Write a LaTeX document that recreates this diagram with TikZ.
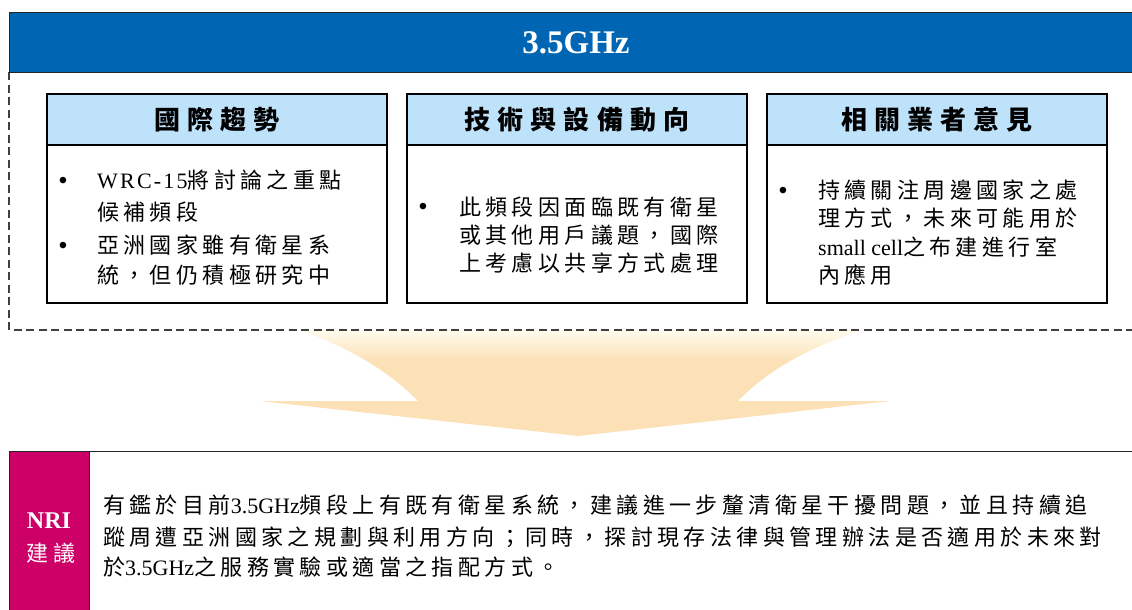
\documentclass[tikz,border=0pt]{standalone}
\usepackage{fontspec}
\setmainfont{Liberation Serif}
\newfontfamily\cjk[LetterSpace=20]{Noto Sans CJK TC}
\newfontfamily\cjkh[LetterSpace=27]{Noto Sans CJK TC}
\newfontfamily\bulfont{Liberation Sans}
\definecolor{barblue}{RGB}{0,102,179}
\definecolor{hdrblue}{RGB}{189,226,250}
\definecolor{nripink}{RGB}{204,0,102}
\definecolor{arrorange}{RGB}{252,224,182}
\definecolor{arrtop}{RGB}{255,252,238}
\pgfdeclareverticalshading{arrowshade}{100bp}{color(0bp)=(arrorange); color(60bp)=(arrorange); color(75bp)=(arrtop); color(100bp)=(arrtop)}
\begin{document}
\begin{tikzpicture}[x=1pt,y=-1pt,
  hdr/.style={draw=black, line width=1.2pt, fill=hdrblue, minimum width=340pt, minimum height=51pt, inner sep=0pt, font=\fontsize{26}{26}\selectfont\cjkh\bfseries},
  bodybox/.style={draw=black, line width=1.2pt, fill=white, minimum width=340pt, minimum height=158pt, inner sep=0pt},
  txt/.style={anchor=base west, inner sep=0pt, font=\fontsize{22}{22}\selectfont\cjk},
  bul/.style={anchor=base, inner sep=0pt, font=\fontsize{24}{24}\selectfont\bulfont},
  frame/.style={draw=black!75, line width=1.3pt, dash pattern=on 8pt off 4.5pt},
]
\useasboundingbox (0,0) rectangle (1132,610);
% arrow
\shade[shading=arrowshade] (300,330) .. controls (350,348) and (390,372) .. (418,401) -- (260,401) -- (578,436) -- (890,401) -- (738,401) .. controls (766,372) and (806,348) .. (863,330) -- cycle;
% dashed frame
\coordinate (fa) at (9,72);
\coordinate (fb) at (9,330);
\coordinate (fc) at (1140,330);
\draw[frame] (fa) -- (fb) -- (fc);
% top bar
\node[draw=black!85, line width=1.2pt, fill=barblue, minimum width=1140pt, minimum height=60pt, inner sep=0pt, anchor=north west] (bar) at (9,12) {};
\node[text=white, font=\fontsize{33}{33}\selectfont\bfseries] (title) at (576,43) {3.5GHz};
% columns
\node[bodybox] (b1) at (217,224) {};
\node[bodybox] (b2) at (577,224) {};
\node[bodybox] (b3) at (937,224) {};
\node[hdr] (h1) at (217,119.5) {國際趨勢};
\node[hdr] (h2) at (577,119.5) {技術與設備動向};
\node[hdr] (h3) at (937,119.5) {相關業者意見};
% column 1
\node[bul] (u1a) at (63,188) {•};
\node[txt] (t1a) at (97,188) {{\rmfamily\addfontfeature{LetterSpace=10}WRC-15}將討論之重點};
\node[txt] (t1b) at (97,220) {候補頻段};
\node[bul] (u1b) at (63,253) {•};
\node[txt] (t1c) at (97,253) {亞洲國家雖有衛星系};
\node[txt] (t1d) at (97,283) {統，但仍積極研究中};
% column 2
\node[bul] (u2a) at (423,214) {•};
\node[txt] (t2a) at (459,215) {此頻段因面臨既有衛星};
\node[txt] (t2b) at (459,243) {或其他用戶議題，國際};
\node[txt] (t2c) at (459,271) {上考慮以共享方式處理};
% column 3
\node[bul] (u3a) at (783,198) {•};
\node[txt] (t3a) at (818,198) {持續關注周邊國家之處};
\node[txt] (t3b) at (818,226) {理方式，未來可能用於};
\node[txt] (t3c) at (818,255) {{\rmfamily small cell}之布建進行室};
\node[txt] (t3d) at (818,283) {內應用};
% NRI box
\node[draw=black!85, line width=1.2pt, fill=white, minimum width=1140pt, minimum height=170pt, inner sep=0pt, anchor=north west] (nri) at (9,451) {};
\node[draw=black!85, line width=1.2pt, fill=nripink, minimum width=80pt, minimum height=170pt, inner sep=0pt, anchor=north west] (nril) at (9,451) {};
\node[text=white, font=\fontsize{24}{24}\selectfont\bfseries] (nrit) at (49,521) {NRI};
\node[text=white, font=\fontsize{22}{22}\selectfont\cjk] (nris) at (51,553) {建議};
\node[txt] (n1) at (103,513) {有鑑於目前{\rmfamily 3.5GHz}頻段上有既有衛星系統，建議進一步釐清衛星干擾問題，並且持續追};
\node[txt] (n2) at (103,545) {蹤周遭亞洲國家之規劃與利用方向；同時，探討現存法律與管理辦法是否適用於未來對};
\node[txt] (n3) at (103,575) {於{\rmfamily 3.5GHz}之服務實驗或適當之指配方式。};
\end{tikzpicture}
\end{document}
